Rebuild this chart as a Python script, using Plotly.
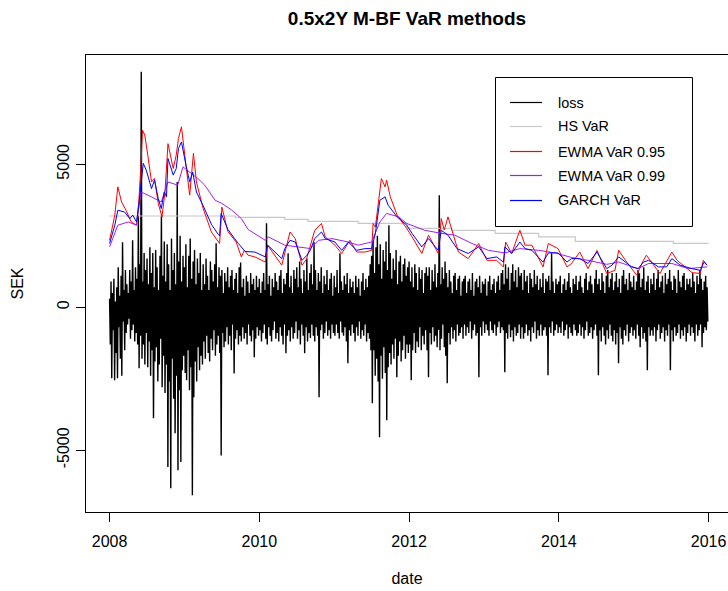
import plotly.graph_objects as go

# ---------------- data ----------------
# Weekly loss (SEK): one high and one low reading per week, 2008.0 .. 2016.0
loss_hi = [
    300, 900, 500, 1000, 200, 700, 1400, 400, 1100, 2270, 600, 1300, 800,
    500, 1300, 900, 2340, 600, 1400, 1000, 3200, 1500, 8230, 900, 1900, 1300,
    1700, 800, 2100, 1200, 1900, 700, 2000, 1400, 600, 1800, 3220, 1100, 2300,
    900, 2200, 1500, 600, 2400, 1300, 1900, 800, 4380, 1600, 2500, 900, 1800,
    1400, 2200, 700, 1800, 2400, 1000, 1600, 2000, 800, 1700, 1200, 1900, 600,
    1500, 800, 1700, 1100, 600, 1600, 1300, 900, 1500, 2240, 700, 1400, 1100,
    1300, 500, 1200, 900, 1400, 700, 1100, 1300, 600, 1000, 1200, 500, 1400,
    1560, 700, 1000, 400, 1100, 900, 500, 1200, 800, 1000, 600, 1100, 700,
    1000, 500, 900, 1200, 600, 2940, 800, 1100, 400, 1000, 700, 1200, 900,
    600, 1100, 1300, 500, 1000, 800, 1200, 1890, 700, 1100, 500, 1300, 1000,
    1400, 700, 1600, 1000, 500, 1300, 900, 1700, 600, 1200, 1500, 800, 2270,
    1300, 600, 1200, 900, 1400, 500, 1100, 800, 1300, 600, 1000, 1200, 400,
    1100, 700, 1300, 500, 1890, 900, 600, 1100, 800, 1200, 500, 1000, 700,
    900, 500, 1100, 700, 1000, 400, 900, 1200, 600, 1000, 700, 1100, 1500,
    1800, 2300, 1200, 2100, 2500, 1500, 2200, 1000, 2000, 1600, 2300, 1300, 2870,
    1900, 1000, 1700, 1300, 2000, 800, 1600, 1800, 900, 1500, 1700, 1100, 1400,
    1600, 900, 1400, 700, 1500, 1200, 600, 1400, 1000, 1300, 500, 1200, 1400,
    1100, 1400, 600, 1300, 900, 1500, 700, 1200, 3920, 800, 1400, 1000, 1600,
    1200, 700, 1300, 900, 500, 1100, 1200, 600, 1000, 1100, 400, 900, 1000,
    1100, 500, 900, 1000, 600, 1200, 400, 900, 1000, 700, 1100, 500, 900,
    800, 1000, 400, 900, 1100, 600, 800, 1000, 500, 900, 1100, 600, 1200,
    1300, 800, 1500, 1000, 1400, 600, 1200, 1500, 900, 1300, 700, 1400, 1100,
    1200, 600, 1300, 900, 1100, 500, 1200, 1000, 700, 1300, 800, 1100, 600,
    1000, 700, 1200, 500, 1000, 900, 1100, 600, 1890, 900, 500, 1000, 800,
    900, 1100, 500, 800, 1000, 600, 900, 1200, 700, 500, 1000, 800, 1100,
    600, 900, 1100, 700, 500, 1000, 1200, 600, 900, 1100, 800, 500, 1000,
    1300, 800, 1000, 600, 1200, 900, 500, 1100, 1300, 700, 1000, 1200, 600,
    900, 1200, 700, 1000, 500, 1100, 1300, 800, 1000, 600, 1200, 900, 700,
    1100, 600, 900, 1300, 1190, 700, 1000, 1400, 600, 900, 1100, 500, 1000,
    800, 1200, 600, 1000, 1300, 700, 900, 1100, 500, 1200, 800, 1000, 1300,
    900, 600, 1100, 1000, 500, 1300, 900, 700, 1100, 1200, 600, 1000, 800,
    1000, 700, 1200, 900, 500, 1100, 800, 1300, 1000, 600, 900, 1100, 700,
]
loss_lo = [
    -1300, -2480, -800, -2550, -1600, -2480, -700, -1800, -2400, -500, -1500, -900, -600,
    -400, -1100, -800, -600, -1200, -900, -1300, -2130, -1000, -1800, -1300, -2000, -900,
    -2100, -1200, -2400, -1500, -3880, -1900, -1400, -2600, -2000, -1100, -2800, -1700, -3000,
    -2000, -5590, -2600, -6330, -1800, -3200, -4410, -2400, -5700, -2900, -5410, -2200, -1700,
    -2300, -2550, -1500, -2900, -2100, -6570, -3150, -1900, -2600, -1400, -2200, -1700, -2000,
    -1200, -1800, -1000, -1600, -1900, -1100, -1500, -800, -1700, -1300, -1000, -1600, -5180,
    -900, -1400, -1200, -700, -1300, -1000, -1500, -600, -2320, -1100, -800, -1300, -1000,
    -1200, -700, -1100, -900, -1300, -600, -1000, -1200, -800, -1750, -1100, -700, -1000,
    -800, -1200, -900, -600, -1100, -1300, -700, -1000, -1200, -800, -500, -1100, -900,
    -1200, -700, -1000, -1300, -600, -1610, -1000, -800, -1200, -700, -1100, -900, -500,
    -1100, -800, -1300, -600, -1000, -1610, -700, -1200, -900, -1080, -600, -1000, -1200,
    -700, -1000, -3150, -800, -600, -1100, -900, -500, -1000, -800, -1100, -600, -900,
    -1000, -600, -900, -1100, -500, -880, -1000, -700, -1200, -1960, -800, -1000, -600,
    -900, -1200, -700, -1000, -500, -1100, -800, -1000, -600, -1200, -900, -1100, -1500,
    -3360, -1500, -2400, -1800, -2600, -4550, -1700, -2500, -1400, -2300, -3950, -2100, -1600,
    -2000, -1300, -1800, -1100, -2450, -1700, -1200, -1900, -1500, -1000, -1800, -1300, -1600,
    -1300, -2550, -1500, -900, -1600, -1200, -1400, -700, -1500, -1000, -1300, -800, -1500,
    -2450, -900, -1300, -700, -1200, -1000, -1400, -800, -1500, -1100, -600, -1400, -1700,
    -2660, -900, -1300, -700, -1100, -800, -1200, -600, -1000, -900, -700, -1100, -600,
    -1000, -700, -900, -500, -1100, -800, -600, -1000, -900, -2450, -700, -1000, -500,
    -900, -600, -800, -1000, -500, -800, -900, -600, -1000, -700, -500, -900, -700,
    -800, -2270, -900, -1100, -600, -1050, -800, -1200, -700, -1000, -900, -600, -1100,
    -700, -1100, -900, -600, -1000, -800, -1200, -700, -900, -500, -1100, -800, -1000,
    -600, -1000, -800, -700, -1000, -2380, -700, -900, -500, -1000, -800, -600, -900,
    -700, -900, -500, -1000, -800, -600, -1100, -700, -900, -1000, -600, -800, -1000,
    -900, -600, -1000, -700, -1100, -800, -500, -1000, -900, -700, -1100, -800, -600,
    -1000, -2380, -800, -1200, -700, -1000, -1300, -800, -1100, -600, -1000, -1200, -800,
    -1300, -900, -1960, -700, -1100, -1300, -800, -1000, -600, -1200, -900, -700, -1000,
    -800, -1100, -600, -1000, -1400, -700, -1100, -900, -1200, -2200, -700, -1000, -800,
    -1000, -700, -1200, -800, -600, -1100, -900, -700, -1200, -800, -1000, -600, -2200,
    -800, -1200, -700, -1000, -900, -600, -1100, -800, -1000, -700, -1200, -900, -600,
    -1000, -700, -900, -1200, -600, -1000, -800, -600, -1400, -900, -700, -800, -500,
]
loss_start_year = 2008
weeks_per_year = 52

# HS VaR (step function)
hs_date = [2008.00, 2009.68, 2010.34, 2010.65, 2011.32, 2011.97, 2012.57, 2013.15, 2013.73, 2014.22, 2015.53, 2016.00]
hs_var = [3190, 3140, 3070, 3000, 2930, 2760, 2690, 2580, 2460, 2300, 2230, 2230]

# EWMA VaR 0.95
ewma95_date = [2008.00, 2008.07, 2008.11, 2008.16, 2008.22, 2008.29, 2008.36, 2008.39, 2008.42, 2008.44,
               2008.47, 2008.51, 2008.56, 2008.60, 2008.65, 2008.70, 2008.74, 2008.78, 2008.85, 2008.89,
               2008.92, 2008.96, 2009.02, 2009.07, 2009.12, 2009.16, 2009.25, 2009.36, 2009.47, 2009.50,
               2009.58, 2009.69, 2009.76, 2009.80, 2009.85, 2009.94, 2010.08, 2010.11, 2010.30, 2010.41,
               2010.48, 2010.57, 2010.63, 2010.74, 2010.83, 2010.88, 2011.01, 2011.10, 2011.21, 2011.30,
               2011.41, 2011.50, 2011.52, 2011.55, 2011.63, 2011.68, 2011.70, 2011.75, 2011.84, 2011.97,
               2012.04, 2012.17, 2012.26, 2012.39, 2012.43, 2012.47, 2012.52, 2012.66, 2012.79, 2012.93,
               2013.04, 2013.17, 2013.26, 2013.29, 2013.37, 2013.48, 2013.55, 2013.64, 2013.79, 2013.86,
               2013.99, 2014.11, 2014.17, 2014.28, 2014.39, 2014.51, 2014.64, 2014.75, 2014.80, 2014.89,
               2015.04, 2015.13, 2015.17, 2015.35, 2015.51, 2015.58, 2015.78, 2015.89, 2015.93, 2015.98]
ewma95_var = [2340, 3220, 4210, 3680, 3390, 2980, 2870, 3680, 5000, 6190,
              6020, 5320, 4380, 4500, 3630, 3160, 4030, 5720, 4850, 5320,
              5900, 6310, 4970, 3920, 5380, 4380, 3450, 2630, 2230, 3500,
              2650, 2280, 1760, 1990, 1820, 1760, 1580, 2170, 1470, 2630,
              2400, 1470, 1680, 2690, 2930, 2460, 2170, 1880, 2340, 1930,
              1930, 1990, 2930, 2800, 4500, 4210, 4440, 3860, 3220, 2750,
              2460, 1880, 2520, 1880, 3100, 2700, 3160, 1930, 1700, 2230,
              1640, 1640, 1410, 2280, 1880, 2690, 2170, 2170, 1410, 2230,
              2050, 1410, 1530, 1930, 1350, 1990, 1180, 1290, 1990, 1640,
              1120, 1640, 1820, 1180, 1930, 1640, 1210, 1180, 1640, 1470]

# EWMA VaR 0.99
ewma99_date = [2008.00, 2008.11, 2008.25, 2008.36, 2008.42, 2008.56, 2008.69, 2008.78, 2008.91, 2008.98,
               2009.09, 2009.18, 2009.27, 2009.41, 2009.50, 2009.63, 2009.76, 2009.85, 2010.08, 2010.12,
               2010.34, 2010.63, 2010.68, 2010.79, 2010.97, 2011.19, 2011.32, 2011.50, 2011.61, 2011.70,
               2011.86, 2011.97, 2012.21, 2012.44, 2012.61, 2012.84, 2013.06, 2013.28, 2013.48, 2013.73,
               2013.95, 2014.17, 2014.39, 2014.64, 2014.80, 2015.06, 2015.20, 2015.51, 2015.73, 2015.98]
ewma99_var = [2110, 2870, 2980, 2870, 4030, 3860, 3680, 4380, 4270, 4910,
              4680, 4500, 4270, 3740, 3630, 3400, 3100, 2720, 2340, 2460,
              2170, 2070, 2050, 2340, 2400, 2280, 2170, 2280, 2980, 3280,
              3160, 2930, 2690, 2580, 2520, 2230, 1990, 1900, 2050, 1990,
              1900, 1740, 1640, 1500, 1580, 1350, 1530, 1530, 1350, 1410]

# GARCH VaR
garch_date = [2008.00, 2008.07, 2008.11, 2008.20, 2008.27, 2008.31, 2008.36, 2008.39, 2008.45, 2008.49,
              2008.56, 2008.60, 2008.65, 2008.69, 2008.73, 2008.76, 2008.78, 2008.85, 2008.89, 2008.92,
              2008.96, 2009.02, 2009.07, 2009.11, 2009.16, 2009.25, 2009.36, 2009.45, 2009.47, 2009.49,
              2009.58, 2009.67, 2009.72, 2009.81, 2009.94, 2010.08, 2010.11, 2010.21, 2010.30, 2010.34,
              2010.41, 2010.48, 2010.57, 2010.63, 2010.68, 2010.74, 2010.83, 2010.88, 2011.01, 2011.10,
              2011.19, 2011.30, 2011.41, 2011.50, 2011.55, 2011.61, 2011.68, 2011.72, 2011.84, 2011.97,
              2012.04, 2012.17, 2012.26, 2012.39, 2012.43, 2012.52, 2012.64, 2012.79, 2012.93, 2013.04,
              2013.17, 2013.26, 2013.28, 2013.37, 2013.48, 2013.55, 2013.64, 2013.79, 2013.86, 2013.99,
              2014.11, 2014.17, 2014.28, 2014.39, 2014.51, 2014.64, 2014.71, 2014.80, 2014.89, 2014.97,
              2015.06, 2015.13, 2015.20, 2015.33, 2015.44, 2015.51, 2015.62, 2015.78, 2015.89, 2015.94, 2015.98]
garch_var = [2230, 2870, 3390, 3330, 3100, 3220, 2980, 3570, 5030, 4790,
             4150, 4440, 3800, 3450, 4030, 3860, 5200, 4620, 4850, 5550,
             5780, 4970, 4380, 4730, 4030, 3550, 2900, 2550, 2500, 3280,
             2720, 2400, 2230, 1950, 1930, 1760, 2170, 1930, 1700, 2050,
             2340, 2280, 1640, 1800, 1990, 2400, 2630, 2400, 2280, 1990,
             2280, 1990, 2050, 2050, 2580, 3740, 3860, 3570, 3160, 2870,
             2580, 2110, 2400, 1990, 2690, 2520, 2050, 1880, 2110, 1700,
             1760, 1580, 2110, 1880, 2280, 2050, 1990, 1580, 1900, 1900,
             1580, 1700, 1700, 1530, 1930, 1350, 1470, 1760, 1580, 1410,
             1350, 1580, 1640, 1410, 1410, 1700, 1470, 1350, 1290, 1580, 1470]

series_names = ["loss", "HS VaR", "EWMA VaR 0.95", "EWMA VaR 0.99", "GARCH VaR"]
series_colors = ["#000000", "#C8C8C8", "#FF0000", "#A020F0", "#0000FF"]

x_tick_years = [2008, 2010, 2012, 2014, 2016]
y_tick_values = [-5000, 0, 5000]

# ---------------- figure ----------------
FONT = "Liberation Sans, Arial, Helvetica, sans-serif"
W, H = 728, 591
ML, MR, MT, MB = 86, 0, 55, 79

loss_x, loss_y = [], []
for i, (hi, lo) in enumerate(zip(loss_hi, loss_lo)):
    loss_x += [loss_start_year + i / weeks_per_year, loss_start_year + (i + 0.5) / weeks_per_year]
    loss_y += [hi, lo]

fig = go.Figure()
fig.add_trace(go.Scatter(x=loss_x, y=loss_y, mode="lines", name=series_names[0],
                         line=dict(color=series_colors[0], width=1.4, simplify=False)))
fig.add_trace(go.Scatter(x=hs_date, y=hs_var, mode="lines", name=series_names[1],
                         line=dict(color=series_colors[1], width=1.2, shape="hv", simplify=False)))
fig.add_trace(go.Scatter(x=ewma95_date, y=ewma95_var, mode="lines", name=series_names[2],
                         line=dict(color=series_colors[2], width=1, simplify=False)))
fig.add_trace(go.Scatter(x=ewma99_date, y=ewma99_var, mode="lines", name=series_names[3],
                         line=dict(color=series_colors[3], width=1, simplify=False)))
fig.add_trace(go.Scatter(x=garch_date, y=garch_var, mode="lines", name=series_names[4],
                         line=dict(color=series_colors[4], width=1, simplify=False)))


def pxx(p):
    return (p - ML) / (W - ML - MR)


def pxy(p):
    return (H - MB - p) / (H - MT - MB)


# legend box drawn by hand to mimic R's legend()
shapes = [dict(type="rect", xref="paper", yref="paper", x0=pxx(495.5), x1=pxx(692.5),
               y0=pxy(226.5), y1=pxy(77.5), line=dict(color="black", width=1), fillcolor="white",
               layer="above")]
annotations = []
legend_rows = [102.5, 126.5, 151.5, 175.5, 200.5]
for nm, col, row in zip(series_names, series_colors, legend_rows):
    yy = pxy(row)
    shapes.append(dict(type="line", xref="paper", yref="paper", x0=pxx(510), x1=pxx(542),
                       y0=yy, y1=yy, line=dict(color=col, width=1.2), layer="above"))
    annotations.append(dict(text=nm, xref="paper", yref="paper", x=pxx(556), y=yy,
                            xanchor="left", yanchor="middle", showarrow=False,
                            font=dict(family=FONT, size=14.4, color="black")))

fig.update_layout(
    width=W, height=H, autosize=False,
    margin=dict(l=ML, r=MR, t=MT, b=MB, pad=0),
    paper_bgcolor="white", plot_bgcolor="white",
    showlegend=False,
    title=dict(text="<b>0.5x2Y M-BF VaR methods</b>", x=0.5, xref="paper", xanchor="center",
               y=1 - 18 / H, yref="container", yanchor="middle",
               font=dict(family=FONT, size=19, color="black")),
    font=dict(family=FONT, size=16, color="black"),
    shapes=shapes, annotations=annotations,
)
fig.update_xaxes(range=[2007.685, 2016.26], tickvals=x_tick_years,
                 ticktext=[str(v) for v in x_tick_years],
                 ticks="outside", ticklen=9, tickwidth=1, tickcolor="black",
                 showline=True, linecolor="black", linewidth=1, mirror=True,
                 showgrid=False, zeroline=False, ticklabelstandoff=6,
                 tickfont=dict(family=FONT, size=16, color="black"),
                 title=dict(text="date", standoff=23, font=dict(family=FONT, size=16, color="black")))
fig.update_yaxes(range=[-7160, 8820], tickvals=y_tick_values,
                 ticktext=[str(v) for v in y_tick_values], tickangle=-90,
                 ticks="outside", ticklen=9, tickwidth=1, tickcolor="black",
                 showline=True, linecolor="black", linewidth=1, mirror=False,
                 showgrid=False, zeroline=False, ticklabelstandoff=1,
                 tickfont=dict(family=FONT, size=16, color="black"),
                 title=dict(text="SEK", standoff=26, font=dict(family=FONT, size=16, color="black")))

fig.write_html("out.html")
